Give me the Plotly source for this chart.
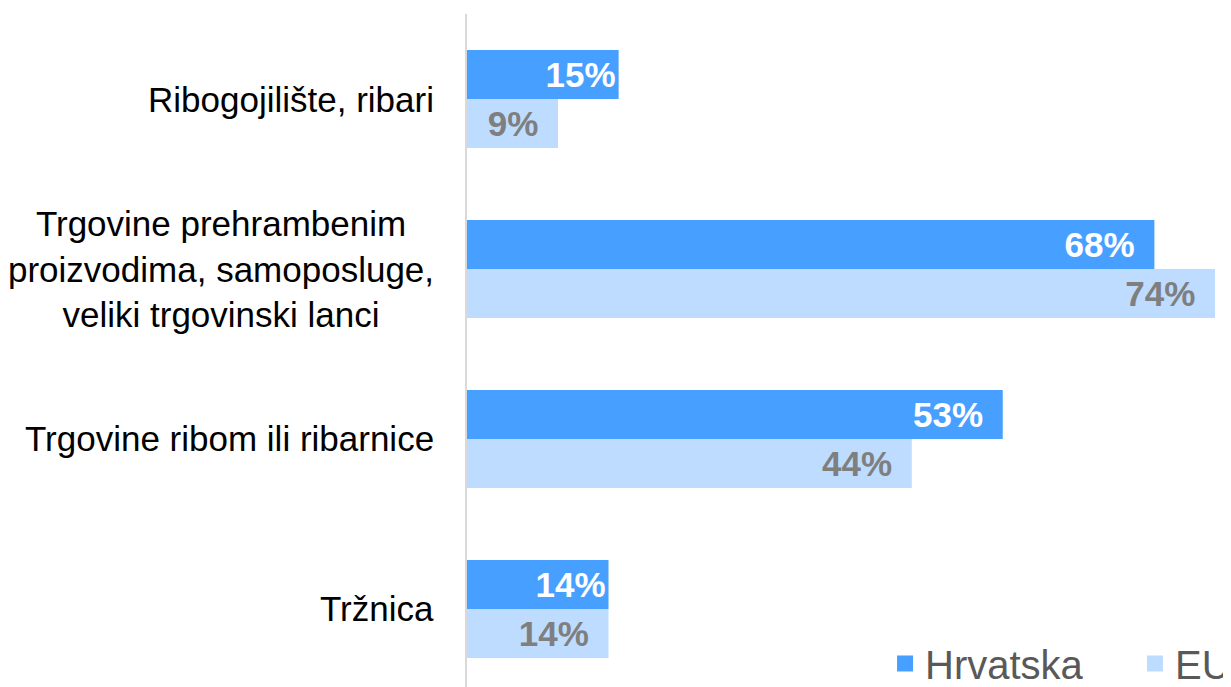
import plotly.graph_objects as go

categories = [
    "Ribogojilište, ribari",
    "Trgovine prehrambenim<br>proizvodima, samoposluge,<br>veliki trgovinski lanci",
    "Trgovine ribom ili ribarnice",
    "Tržnica",
]
cat_ids = ["c1", "c2", "c3", "c4"]
hrvatska = [15, 68, 53, 14]
eu = [9, 74, 44, 14]
series_names = ["Hrvatska", "EU"]

# label padding inside bar end (style only)
PAD = "\u00a0\u2009"
hr_pad = ["", PAD, PAD, ""]
eu_pad = [PAD, PAD, PAD, PAD]

C_HR = "#47A0FF"
C_EU = "#BDDCFF"
FONT = "Liberation Sans, Arial, sans-serif"

def labels(vals, pads):
    return [f"{v}%" + p for v, p in zip(vals, pads)]

fig = go.Figure()
fig.add_trace(go.Bar(
    y=cat_ids, x=hrvatska, orientation="h", name=series_names[0],
    marker=dict(color=C_HR, line=dict(width=0)),
    text=labels(hrvatska, hr_pad), textposition="inside", insidetextanchor="end",
    textangle=0,
    textfont=dict(family=FONT, size=35, color="white", weight="bold"),
    showlegend=False, hoverinfo="skip", cliponaxis=False,
))
fig.add_trace(go.Bar(
    y=cat_ids, x=eu, orientation="h", name=series_names[1],
    marker=dict(color=C_EU, line=dict(width=0)),
    text=labels(eu, eu_pad), textposition="inside", insidetextanchor="end",
    textangle=0,
    textfont=dict(family=FONT, size=35, color="#7F7F7F", weight="bold"),
    showlegend=False, hoverinfo="skip", cliponaxis=False,
))
# legend entries
for nm, col in zip(series_names, [C_HR, C_EU]):
    fig.add_trace(go.Scatter(
        x=[None], y=[None], mode="markers", name=nm,
        marker=dict(symbol="square", size=21, color=col),
        showlegend=True,
    ))

for cid, lab in zip(cat_ids, categories):
    fig.add_annotation(
        x=0, xref="paper", y=cid, yref="y", text=lab, showarrow=False,
        xanchor="right", yanchor="middle", xshift=-31, align="center",
        font=dict(family=FONT, size=35, color="black"),
    )

fig.update_layout(
    width=1231, height=687,
    margin=dict(l=459, r=0, t=6, b=0, pad=0, autoexpand=False),
    paper_bgcolor="white", plot_bgcolor="white",
    barmode="group", bargap=0.4235, bargroupgap=0,
    xaxis=dict(range=[0, 76.37], visible=False, fixedrange=True),
    yaxis=dict(
        type="category", categoryorder="array", categoryarray=cat_ids,
        range=[3.506, -0.5], showticklabels=False, ticks="",
        showline=True, linecolor="#D9D9D9", linewidth=2,
        showgrid=False, zeroline=False,
    ),
    legend=dict(
        orientation="h", x=0.5415, xanchor="left", y=0.094, yanchor="top",
        font=dict(family=FONT, size=40, color="#595959"),
        bgcolor="rgba(0,0,0,0)", entrywidth=205, entrywidthmode="pixels",
        itemsizing="trace",
    ),
    showlegend=True,
)

fig.write_html("out.html")
